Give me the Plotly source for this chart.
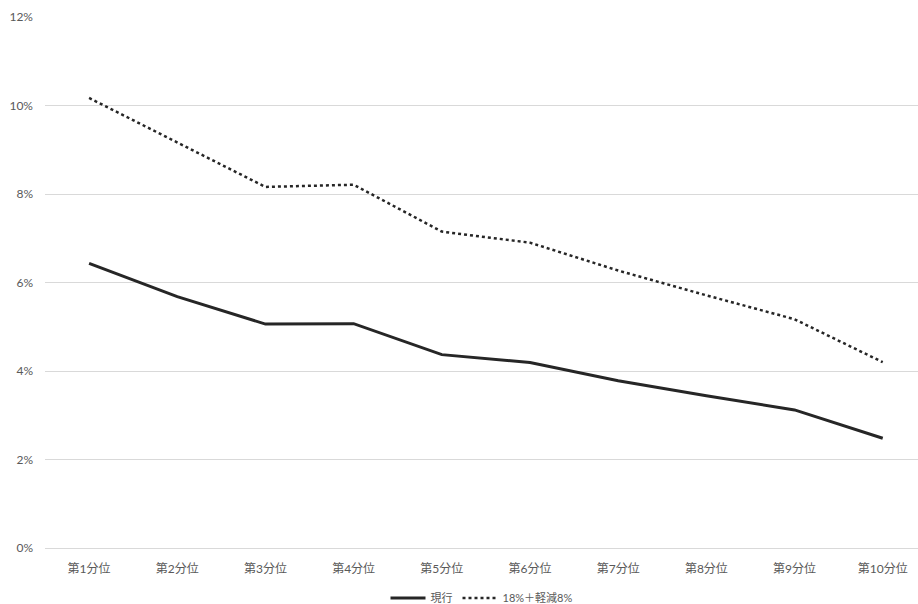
import plotly.graph_objects as go

# 所得十分位別の負担率
categories = ["第1分位", "第2分位", "第3分位", "第4分位", "第5分位",
              "第6分位", "第7分位", "第8分位", "第9分位", "第10分位"]
current_rate = [6.43, 5.68, 5.06, 5.07, 4.37, 4.19, 3.78, 3.44, 3.12, 2.48]
reform_rate = [10.17, 9.16, 8.16, 8.21, 7.15, 6.90, 6.27, 5.71, 5.17, 4.20]
series_names = ["現行", "18%＋軽減8%"]
y_ticks = [0, 2, 4, 6, 8, 10, 12]
y_tick_labels = [f"{v}%" for v in y_ticks]

FONT = "Lato, 'Noto Sans CJK JP', sans-serif"
LINE_COLOR = "#262626"
GRID_COLOR = "#d9d9d9"
TEXT_COLOR = "#595959"

fig = go.Figure()
fig.add_trace(go.Scatter(
    x=categories, y=current_rate, name=series_names[0], mode="lines",
    line=dict(color=LINE_COLOR, width=3),
))
fig.add_trace(go.Scatter(
    x=categories, y=reform_rate, name=series_names[1], mode="lines",
    line=dict(color=LINE_COLOR, width=2.5, dash="dot"),
))

fig.update_layout(
    width=918, height=604,
    margin=dict(l=45, r=0, t=17, b=56, autoexpand=False),
    paper_bgcolor="white", plot_bgcolor="white",
    font=dict(family=FONT, size=12, color=TEXT_COLOR),
    showlegend=True,
    legend=dict(
        orientation="h", x=0.5, xanchor="center", y=-0.094, yanchor="middle",
        font=dict(family=FONT, size=11, color=TEXT_COLOR),
        itemwidth=35, tracegroupgap=0,
    ),
    xaxis=dict(
        type="category", range=[-0.5, 9.40], automargin=False,
        showgrid=False, zeroline=False, showline=False,
        ticks="", ticklabelstandoff=12,
        tickfont=dict(family=FONT, size=12, color=TEXT_COLOR),
    ),
    yaxis=dict(
        range=[0, 12], tickvals=y_ticks, ticktext=y_tick_labels, automargin=False,
        showgrid=True, gridcolor=GRID_COLOR, gridwidth=1,
        zeroline=True, zerolinecolor=GRID_COLOR, zerolinewidth=1,
        showline=False, ticks="", ticklabelstandoff=11,
        tickfont=dict(family=FONT, size=12, color=TEXT_COLOR),
    ),
)

fig.write_html("out.html")
